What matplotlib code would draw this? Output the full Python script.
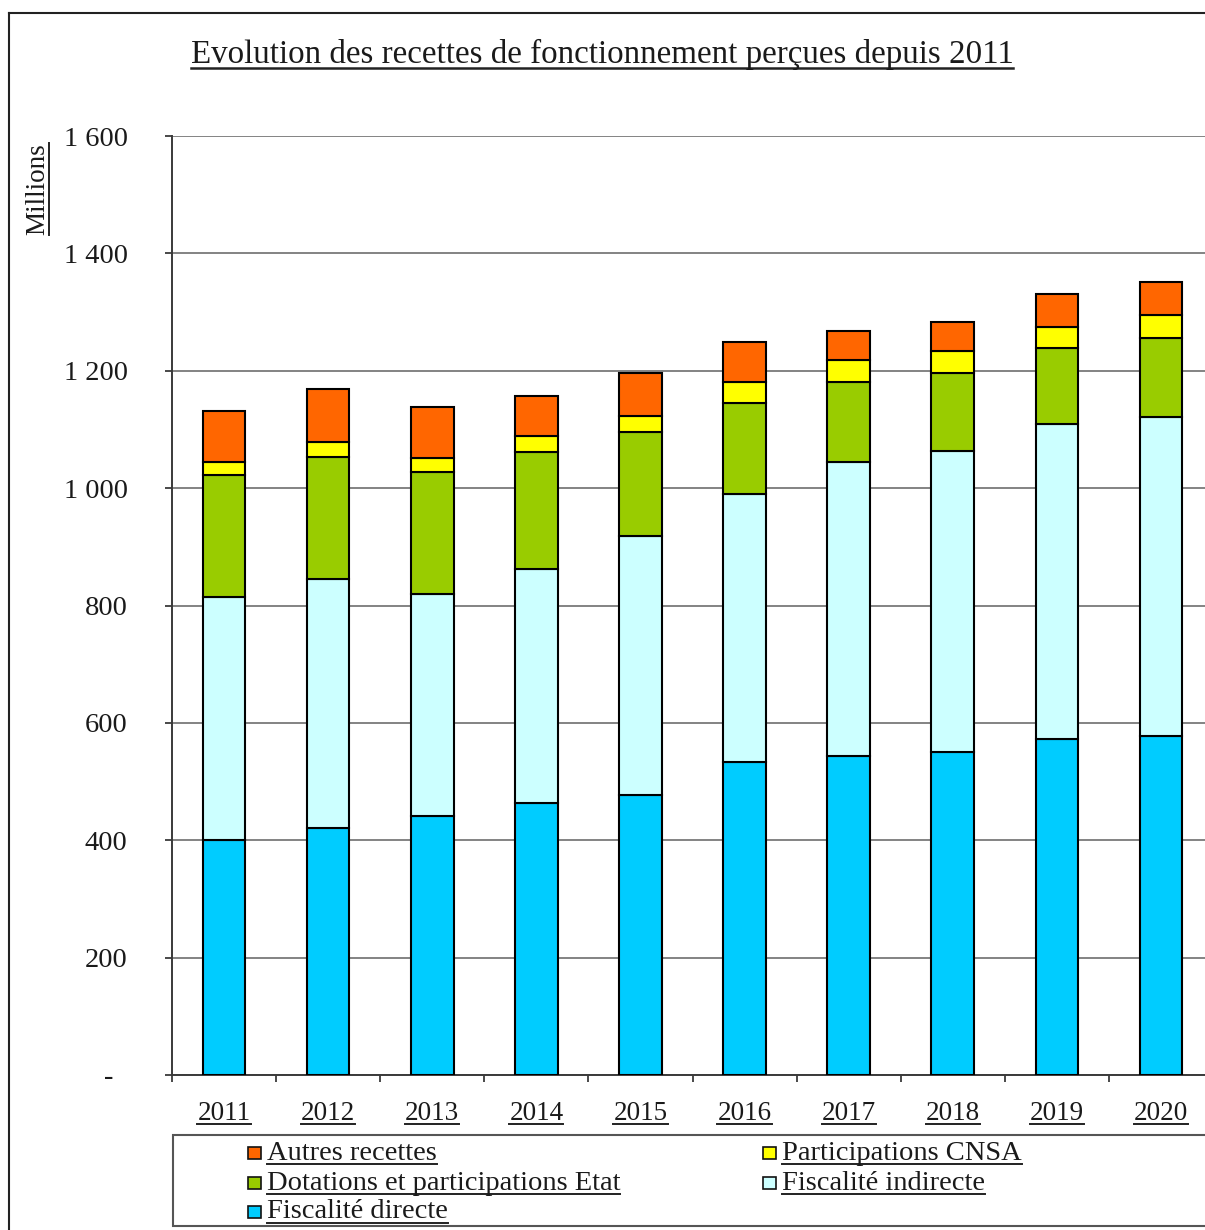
import matplotlib
matplotlib.use("Agg")
import matplotlib.pyplot as plt
from matplotlib.patches import Rectangle
from matplotlib.lines import Line2D
from matplotlib.ticker import FuncFormatter, FixedLocator
import numpy as np

# Recettes de fonctionnement (millions d'euros)
years = ["2011", "2012", "2013", "2014", "2015", "2016", "2017", "2018", "2019", "2020"]
fiscalite_directe = [401, 421, 442, 463, 477, 533, 543, 551, 572, 578]
fiscalite_indirecte = [414, 424, 378, 399, 441, 457, 501, 512, 538, 544]
dotations_etat = [207, 208, 207, 199, 177, 155, 136, 133, 128, 134]
participations_cnsa = [23, 25, 25, 28, 28, 35, 38, 37, 37, 39]
autres_recettes = [86, 91, 86, 68, 74, 69, 50, 50, 55, 56]

series_names = ["Fiscalité directe", "Fiscalité indirecte",
                "Dotations et participations Etat", "Participations CNSA",
                "Autres recettes"]
series_values = [fiscalite_directe, fiscalite_indirecte, dotations_etat,
                 participations_cnsa, autres_recettes]
series_colors = ["#00CCFF", "#CCFFFF", "#99CC00", "#FFFF00", "#FF6600"]

y_ticks = [0, 200, 400, 600, 800, 1000, 1200, 1400, 1600]

plt.rcParams['font.family'] = ['Liberation Serif', 'DejaVu Serif']

W, H = 1205, 1230
fig = plt.figure(figsize=(W / 100, H / 100), dpi=100)


def fx(x):
    return x / W


def fy(y):
    return 1 - y / H


AX_L, AX_R, AX_T, AX_B = 172, 1213, 136, 1075
ax = fig.add_axes([fx(AX_L), fy(AX_B), (AX_R - AX_L) / W, (AX_B - AX_T) / H])

x = np.arange(len(years))
bottom = np.zeros(len(years))
bars = {}
for name, vals, col in zip(series_names, series_values, series_colors):
    vals = np.array(vals, dtype=float)
    bars[name] = ax.bar(x, vals, width=0.41, bottom=bottom, color=col,
                        edgecolor="black", linewidth=1.5, zorder=3)
    bottom += vals

ax.set_xlim(-0.5, len(years) - 0.5)
ax.set_ylim(0, 1600)

# grid and spines
ax.yaxis.set_major_locator(FixedLocator(y_ticks))
ax.yaxis.grid(True, color="#7a7a7a", linewidth=1.3, zorder=0)
ax.set_axisbelow(True)
for s in ["top", "right"]:
    ax.spines[s].set_visible(False)
for s in ["left", "bottom"]:
    ax.spines[s].set_color("#3a3a3a")
    ax.spines[s].set_linewidth(1.4)


def fr_fmt(v, pos):
    if v == 0:
        return "-  "
    return f"{int(v):,}".replace(",", " ")


ax.yaxis.set_major_formatter(FuncFormatter(fr_fmt))
ax.tick_params(axis="y", direction="out", length=5, width=1.3, color="#3a3a3a",
               pad=27, labelsize=20.5, labelcolor="#1a1a1a")

ax.set_xticks(x)
ax.set_xticklabels(years)
ax.set_xticks(np.arange(-0.5, len(years)), minor=True)
ax.tick_params(axis="x", which="major", length=0, pad=19, labelsize=19.5,
               labelcolor="#1a1a1a")
ax.tick_params(axis="x", which="minor", direction="out", length=5, width=1.3,
               color="#3a3a3a")

# title and unit label
title = fig.text(fx(602), fy(54), "Evolution des recettes de fonctionnement perçues depuis 2011",
                 ha="center", va="center", fontsize=23.8, color="#1a1a1a")
unit = fig.text(fx(38), fy(189), "Millions", rotation=90, ha="center", va="center",
                fontsize=19.5, color="#1a1a1a")

# outer frame
fig.add_artist(Line2D([fx(9), fx(9)], [fy(13), 0], transform=fig.transFigure,
                      color="#222222", linewidth=1.5))
fig.add_artist(Line2D([fx(9), 1], [fy(13), fy(13)], transform=fig.transFigure,
                      color="#222222", linewidth=1.5))

# legend box
fig.add_artist(Rectangle((fx(173), fy(1226)), (1230 - 173) / W, (1226 - 1135) / H,
                         transform=fig.transFigure, facecolor="white",
                         edgecolor="#555555", linewidth=1.5))

legend_layout = [
    ("Autres recettes", 248, 1153),
    ("Participations CNSA", 763, 1153),
    ("Dotations et participations Etat", 248, 1183),
    ("Fiscalité indirecte", 763, 1183),
    ("Fiscalité directe", 248, 1212),
]
legend_texts = []
for name, lx, ly in legend_layout:
    col = series_colors[series_names.index(name)]
    fig.add_artist(Rectangle((fx(lx), fy(ly + 6)), 13 / W, 12 / H,
                             transform=fig.transFigure, facecolor=col,
                             edgecolor="#111111", linewidth=1.2))
    t = fig.text(fx(lx + 19), fy(ly), name, ha="left", va="center",
                 fontsize=20.5, color="#1a1a1a")
    legend_texts.append(t)

# underline texts
fig.canvas.draw()
renderer = fig.canvas.get_renderer()
FW = fig.dpi * fig.get_figwidth()
FH = fig.dpi * fig.get_figheight()


def underline(t, lw=1.4, off=1.0):
    bb = t.get_window_extent(renderer)
    y = (bb.y0 + off) / FH
    fig.add_artist(Line2D([bb.x0 / FW, bb.x1 / FW], [y, y],
                          transform=fig.transFigure, color="#222222", linewidth=lw))


def underline_vertical(t, lw=1.4, off=1.0):
    bb = t.get_window_extent(renderer)
    xx = (bb.x1 - off) / FW
    fig.add_artist(Line2D([xx, xx], [bb.y0 / FH, bb.y1 / FH],
                          transform=fig.transFigure, color="#222222", linewidth=lw))


underline(title, lw=1.8, off=2)
for t in ax.get_xticklabels():
    underline(t, off=2)
for t in legend_texts:
    underline(t, off=2)
underline_vertical(unit, off=2)

fig.savefig("out.png", dpi=100)
